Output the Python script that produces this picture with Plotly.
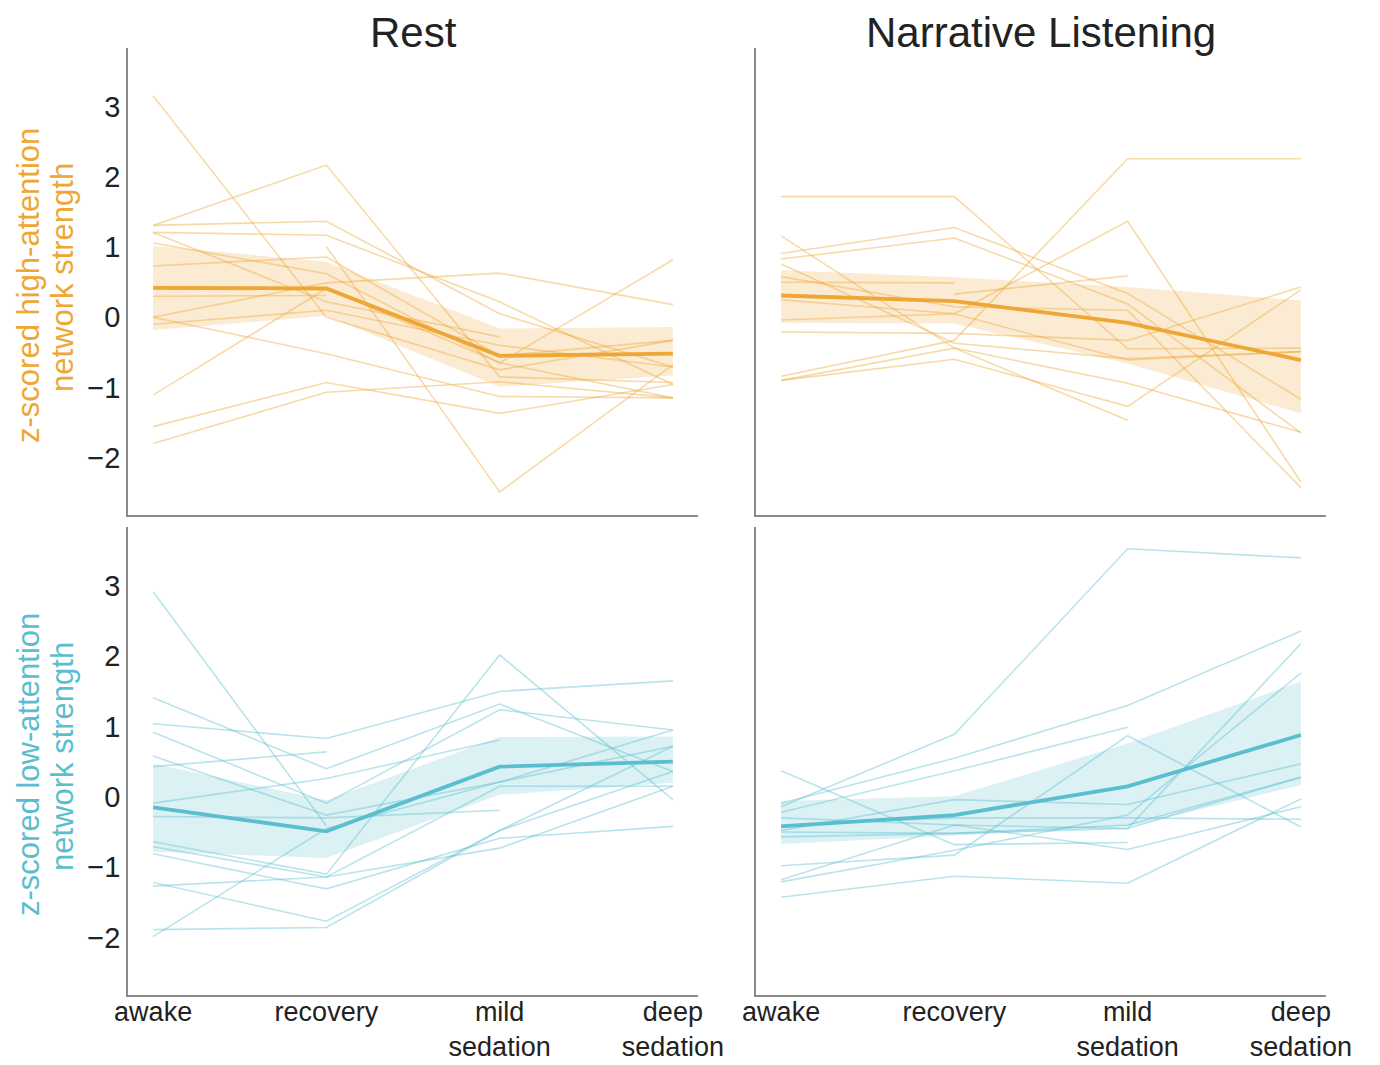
import plotly.graph_objects as go
from plotly.subplots import make_subplots

nan = None
conditions = [0, 1, 2, 3]
tick_labels = ["awake", "recovery", "mild<br>sedation", "deep<br>sedation"]
y_ticks = [-2, -1, 0, 1, 2, 3]

# ---- Rest, high-attention network (individual subjects) ----
rest_high_subjects = [
    [3.16, 0.00, -0.75, -0.33],
    [1.31, 2.17, -0.85, -0.93],
    [1.31, 1.37, 0.05, -0.71],
    [1.21, 1.17, 0.22, -0.96],
    [1.21, 0.22, -0.28, nan],
    [1.06, 0.62, -0.65, -1.15],
    [0.73, 0.86, -0.55, -0.33],
    [0.30, 0.31, nan, nan],
    [0.00, 0.49, 0.63, 0.18],
    [0.00, -0.52, -1.13, -1.15],
    [-0.10, 0.10, -0.40, -0.71],
    [-1.11, 0.41, -0.65, 0.82],
    [-1.56, -0.93, -1.37, -0.96],
    [-1.80, -1.07, -0.92, -1.15],
    [nan, 1.01, -2.49, -0.68],
]
rest_high_mean = [0.42, 0.41, -0.55, -0.52]
rest_high_lo = [-0.18, 0.02, -0.99, -0.83]
rest_high_hi = [1.02, 0.79, -0.16, -0.14]

# ---- Narrative, high-attention network ----
narr_high_subjects = [
    [1.72, 1.72, -0.45, -0.44],
    [0.91, 1.28, 0.34, -1.17],
    [0.83, 1.13, 0.19, -1.65],
    [1.16, -0.44, -0.94, -1.64],
    [0.76, -0.37, -0.59, -0.49],
    [0.50, 0.49, nan, nan],
    [nan, 0.33, 0.59, nan],
    [0.58, 0.15, 0.10, -2.43],
    [-0.04, 0.05, 1.37, -2.35],
    [-0.21, -0.23, -0.33, 0.43],
    [-0.84, -0.33, 2.26, 2.26],
    [-0.90, -0.60, -1.27, 0.39],
    [-0.90, -0.44, -1.47, nan],
    [0.25, 0.05, -0.61, -0.49],
]
narr_high_mean = [0.31, 0.23, -0.08, -0.61]
narr_high_lo = [-0.08, -0.09, -0.66, -1.37]
narr_high_hi = [0.67, 0.57, 0.43, 0.24]

# ---- Rest, low-attention network ----
rest_low_subjects = [
    [2.92, -0.41, nan, nan],
    [1.41, 0.40, 1.32, 0.36],
    [1.04, 0.83, 1.50, 1.65],
    [0.92, -0.09, 1.24, 0.95],
    [0.58, -0.26, 0.21, 0.72],
    [0.43, 0.64, nan, nan],
    [-0.09, 0.26, 0.81, nan],
    [-0.28, -0.30, -0.19, nan],
    [-0.64, -1.10, 2.02, -0.04],
    [-0.71, -1.14, 0.15, 0.15],
    [-0.81, -1.31, -0.59, -0.42],
    [-1.22, -1.77, -0.48, 0.36],
    [-1.27, -1.14, -0.73, 0.15],
    [-1.89, -1.86, -0.48, 0.72],
    [-1.99, -0.45, 0.21, 0.95],
]
rest_low_mean = [-0.15, -0.49, 0.43, 0.50]
rest_low_lo = [-0.78, -0.87, 0.03, 0.20]
rest_low_hi = [0.47, -0.05, 0.85, 0.86]

# ---- Narrative, low-attention network ----
narr_low_subjects = [
    [-0.14, 0.89, 3.53, 3.40],
    [-0.09, 0.55, 1.30, 2.36],
    [-0.22, 0.37, 0.99, nan],
    [0.37, -0.68, -0.65, nan],
    [-0.98, -0.83, 0.87, -0.43],
    [-1.43, -1.13, -1.23, -0.03],
    [-1.18, -0.40, -0.45, 2.18],
    [-1.21, -0.76, -0.26, 1.76],
    [-0.48, -0.04, -0.11, 0.47],
    [-0.57, -0.52, -0.40, 0.28],
    [-0.30, -0.40, -0.75, -0.14],
    [-0.40, -0.30, -0.30, -0.32],
    [-0.50, -0.52, -0.45, 0.28],
]
narr_low_mean = [-0.42, -0.26, 0.15, 0.88]
narr_low_lo = [-0.67, -0.55, -0.43, 0.17]
narr_low_hi = [-0.06, 0.01, 0.76, 1.64]

ORANGE = (238, 166, 52)
TEAL = (90, 190, 207)
FONT = "Liberation Sans, Arial, Helvetica, sans-serif"


def rgba(c, a):
    return f"rgba({c[0]},{c[1]},{c[2]},{a})"


fig = make_subplots(rows=2, cols=2)

panels = [
    (1, 1, rest_high_subjects, rest_high_mean, rest_high_lo, rest_high_hi, ORANGE),
    (1, 2, narr_high_subjects, narr_high_mean, narr_high_lo, narr_high_hi, ORANGE),
    (2, 1, rest_low_subjects, rest_low_mean, rest_low_lo, rest_low_hi, TEAL),
    (2, 2, narr_low_subjects, narr_low_mean, narr_low_lo, narr_low_hi, TEAL),
]

for r, c, subs, mean, lo, hi, col in panels:
    fig.add_trace(go.Scatter(x=conditions, y=hi, mode="lines", line=dict(width=0),
                             hoverinfo="skip", showlegend=False), row=r, col=c)
    fig.add_trace(go.Scatter(x=conditions, y=lo, mode="lines", line=dict(width=0),
                             fill="tonexty", fillcolor=rgba(col, 0.22),
                             hoverinfo="skip", showlegend=False), row=r, col=c)
    for s in subs:
        fig.add_trace(go.Scatter(x=conditions, y=s, mode="lines",
                                 line=dict(color=rgba(col, 0.42), width=1.6),
                                 connectgaps=False, showlegend=False), row=r, col=c)
    fig.add_trace(go.Scatter(x=conditions, y=mean, mode="lines",
                             line=dict(color=rgba(col, 1), width=3.8),
                             showlegend=False), row=r, col=c)

# the page has an 8px body margin: figure pixel = screen pixel - 8
OFF = 8
W, H = 1380 - OFF, 1065 - OFF


def fx(px):
    return (px - OFF) / W


def fy(py):
    return 1 - (py - OFF) / H


xdoms = [[fx(128), fx(698)], [fx(756), fx(1326)]]
ydoms = [[fy(515), fy(48)], [fy(995), fy(527)]]

axis_common = dict(showline=True, linecolor="#8a8a8a", linewidth=1.5, showgrid=False,
                   zeroline=False, ticks="", mirror=False, automargin=False)

for r in (1, 2):
    for c in (1, 2):
        idx = (r - 1) * 2 + c
        xname = "xaxis" if idx == 1 else f"xaxis{idx}"
        yname = "yaxis" if idx == 1 else f"yaxis{idx}"
        fig.layout[xname].update(
            domain=xdoms[c - 1], range=[-0.145, 3.145],
            tickvals=conditions, ticktext=tick_labels,
            showticklabels=(r == 2), ticklabelstandoff=-8,
            tickfont=dict(family=FONT, size=27, color="#222222"),
            **axis_common)
        fig.layout[yname].update(
            domain=ydoms[r - 1], range=[-2.82, 3.84],
            tickvals=y_ticks, ticktext=["\u22122", "\u22121", "0", "1", "2", "3"],
            showticklabels=(c == 1), ticklabelstandoff=0,
            tickfont=dict(family=FONT, size=29, color="#222222"),
            **axis_common)

annotations = [
    dict(text="Rest", x=fx(413), y=fy(32), xref="paper", yref="paper",
         showarrow=False, font=dict(family=FONT, size=42, color="#222222"),
         xanchor="center", yanchor="middle"),
    dict(text="Narrative Listening", x=fx(1041), y=fy(32), xref="paper", yref="paper",
         showarrow=False, font=dict(family=FONT, size=42, color="#222222"),
         xanchor="center", yanchor="middle"),
]
ylabels = [
    ("z-scored high-attention", 28, 286, ORANGE),
    ("network strength", 62, 278, ORANGE),
    ("z-scored low-attention", 28, 765, TEAL),
    ("network strength", 62, 757, TEAL),
]
for txt, px, py, col in ylabels:
    annotations.append(dict(text=txt, x=fx(px), y=fy(py), xref="paper", yref="paper",
                            showarrow=False, textangle=-90,
                            font=dict(family=FONT, size=31, color=rgba(col, 1)),
                            xanchor="center", yanchor="middle"))

fig.update_layout(
    width=W, height=H,
    margin=dict(l=0, r=0, t=0, b=0, autoexpand=False),
    paper_bgcolor="white", plot_bgcolor="white",
    annotations=annotations,
    showlegend=False,
)

fig.write_html("out.html")
